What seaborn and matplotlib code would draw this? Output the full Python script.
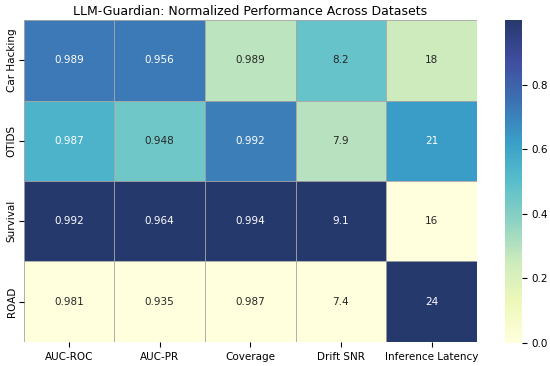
import numpy as np
import pandas as pd
import matplotlib
matplotlib.use("Agg")
import matplotlib.pyplot as plt
import seaborn as sns

datasets = ["Car Hacking", "OTIDS", "Survival", "ROAD"]
metrics = ["AUC-ROC", "AUC-PR", "Coverage", "Drift SNR", "Inference Latency"]
auc_roc = [0.989, 0.987, 0.992, 0.981]
auc_pr = [0.956, 0.948, 0.964, 0.935]
coverage = [0.989, 0.992, 0.994, 0.987]
drift_snr = [8.2, 7.9, 9.1, 7.4]
latency = [18, 21, 16, 24]

raw = pd.DataFrame({"AUC-ROC": auc_roc, "AUC-PR": auc_pr, "Coverage": coverage,
                    "Drift SNR": drift_snr, "Inference Latency": latency}, index=datasets)
# colour by per-column min-max, annotate with raw values
norm = (raw - raw.min()) / (raw.max() - raw.min())

annot = raw.copy().astype(object)
for c in ["AUC-ROC", "AUC-PR", "Coverage"]:
    annot[c] = raw[c].map(lambda v: f"{v:.3f}")
annot["Drift SNR"] = raw["Drift SNR"].map(lambda v: f"{v:.1f}")
annot["Inference Latency"] = raw["Inference Latency"].map(lambda v: f"{int(v)}")

fig = plt.figure(figsize=(5.5, 3.66), dpi=100)
ax = fig.add_axes([0.043, 0.066, 0.824, 0.879])
cax = fig.add_axes([0.918, 0.063, 0.031, 0.882])
sns.heatmap(norm, annot=annot.values, fmt="", cmap="YlGnBu", vmin=0, vmax=1,
            linewidths=0.6, linecolor="#a8a8a8", ax=ax, cbar_ax=cax, alpha=0.88,
            annot_kws={"fontsize": 7.5}, cbar_kws={"ticks": [0, 0.2, 0.4, 0.6, 0.8]})
ax.set_title("LLM-Guardian: Normalized Performance Across Datasets", fontsize=9, pad=4)
ax.tick_params(labelsize=7.5)
ax.tick_params(axis="y", pad=1.5)
ax.set_xticklabels(metrics, rotation=0)
ax.set_yticklabels(datasets, rotation=90, va="center")
cax.tick_params(labelsize=7.5)
plt.savefig("out.png", dpi=100)
